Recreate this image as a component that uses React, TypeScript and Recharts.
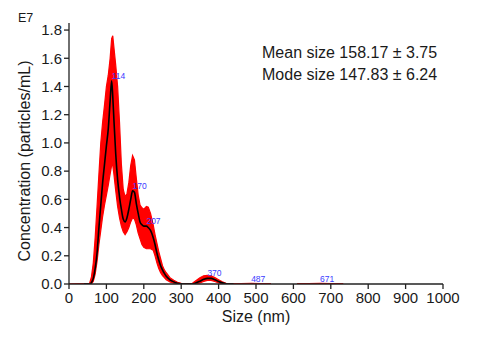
import React from 'react';
import { ComposedChart, Area, Line, XAxis, YAxis, ReferenceDot } from 'recharts';

// Size (nm) sample positions
const sizes = [0, 40, 55, 60, 65, 70, 75, 80, 85, 90, 95, 100, 105, 110, 114, 117, 120, 125, 130, 135, 140, 145, 150, 155, 160, 165, 170, 175, 180, 185, 190, 195, 200, 207, 212, 218, 225, 230, 235, 240, 245, 250, 255, 260, 270, 280, 290, 300, 310, 320, 330, 340, 350, 360, 370, 380, 390, 400, 410, 420, 430, 440, 460, 487, 510, 540, 560, 580, 610, 640, 671, 700, 733, 760, 1000];

// Mean concentration (E7 particles/mL)
const meanConc = [0, 0, 0, 0.01, 0.04, 0.11, 0.22, 0.40, 0.56, 0.72, 0.85, 0.98, 1.10, 1.30, 1.44, 1.33, 1.17, 0.92, 0.74, 0.62, 0.53, 0.46, 0.44, 0.47, 0.53, 0.60, 0.66, 0.65, 0.57, 0.50, 0.44, 0.42, 0.41, 0.41, 0.40, 0.38, 0.33, 0.28, 0.22, 0.17, 0.13, 0.10, 0.075, 0.055, 0.03, 0.015, 0.006, 0.002, 0, 0, 0, 0.008, 0.02, 0.033, 0.04, 0.04, 0.03, 0.018, 0.008, 0.002, 0, 0, 0, 0.002, 0, 0, 0, 0, 0, 0, 0.002, 0, 0, 0, 0];

// Upper edge of the error band
const upperConc = [0, 0.003, 0.005, 0.05, 0.15, 0.33, 0.55, 0.78, 1.0, 1.15, 1.27, 1.40, 1.48, 1.60, 1.74, 1.76, 1.68, 1.55, 1.40, 1.15, 0.85, 0.67, 0.62, 0.64, 0.72, 0.84, 0.91, 0.88, 0.75, 0.63, 0.56, 0.54, 0.53, 0.55, 0.545, 0.50, 0.42, 0.35, 0.29, 0.23, 0.18, 0.13, 0.10, 0.08, 0.045, 0.027, 0.012, 0.005, 0.003, 0.003, 0.005, 0.025, 0.045, 0.058, 0.062, 0.058, 0.045, 0.03, 0.015, 0.005, 0.003, 0.003, 0.003, 0.004, 0.003, 0.003, null, null, 0.003, 0.003, 0.004, 0.003, 0.003, null, null];

// Lower edge of the error band
const lowerConc = [0, 0, 0, 0, 0.02, 0.07, 0.16, 0.28, 0.38, 0.48, 0.56, 0.63, 0.70, 0.78, 0.84, 0.84, 0.78, 0.66, 0.55, 0.47, 0.41, 0.37, 0.35, 0.37, 0.40, 0.44, 0.47, 0.46, 0.42, 0.36, 0.32, 0.28, 0.26, 0.25, 0.25, 0.25, 0.24, 0.20, 0.15, 0.11, 0.08, 0.06, 0.045, 0.03, 0.015, 0.006, 0.002, 0, 0, 0, 0, 0.002, 0.008, 0.018, 0.025, 0.025, 0.018, 0.008, 0.002, 0, 0, 0, 0, 0, 0, 0, null, null, 0, 0, 0, 0, 0, null, null];

// Peak labels
const peakSizes = [114, 170, 207, 370, 487, 671];
const peakValues = [1.44, 0.66, 0.41, 0.04, 0.002, 0.002];

const xTicks = [0, 100, 200, 300, 400, 500, 600, 700, 800, 900, 1000];
const yTicks = [0, 0.2, 0.4, 0.6, 0.8, 1.0, 1.2, 1.4, 1.6, 1.8];

const data = sizes.map((s, i) => ({
  size: s,
  mean: s >= 40 && s <= 440 ? meanConc[i] : null,
  band: upperConc[i] === null || lowerConc[i] === null ? null : [lowerConc[i], upperConc[i]],
}));

const FONT = '"Liberation Sans", Arial, sans-serif';
const TEXT = '#1a1a1a';
const AXIS = '#222';

const PeakLabel = (props: any) => {
  const vb = props.viewBox || {};
  return (
    <text x={vb.x} y={(vb.y ?? 0) - 2} fontSize={8.5} fill="#3b3bff" fontFamily={FONT}>
      {props.value}
    </text>
  );
};

export default function App() {
  return (
    <div style={{ position: 'absolute', left: 0, top: 0, width: 481, height: 343, background: '#fff' }}>
      <ComposedChart
        width={481}
        height={343}
        data={data}
        margin={{ top: 23, right: 38, bottom: 29, left: 0 }}
      >
        <XAxis
          dataKey="size"
          type="number"
          domain={[0, 1000]}
          ticks={xTicks}
          interval={0}
          allowDataOverflow
          height={30}
          stroke={AXIS}
          strokeWidth={1.3}
          tickSize={5}
          tickMargin={3}
          tick={{ fontSize: 15, fill: TEXT, fontFamily: FONT }}
        />
        <YAxis
          type="number"
          domain={[0, 1.85]}
          ticks={yTicks}
          interval={0}
          allowDataOverflow
          width={69}
          stroke={AXIS}
          strokeWidth={1.3}
          tickSize={5}
          tickMargin={2}
          tickFormatter={(v: number) => v.toFixed(1)}
          tick={{ fontSize: 15, fill: TEXT, fontFamily: FONT }}
        />
        <Area
          dataKey="band"
          type="linear"
          stroke="#ff0000"
          strokeWidth={1.2}
          fill="#ff0000"
          fillOpacity={1}
          isAnimationActive={false}
          dot={false}
          activeDot={false}
        />
        <Line
          dataKey="mean"
          type="monotone"
          stroke="#000"
          strokeWidth={1.6}
          dot={false}
          activeDot={false}
          isAnimationActive={false}
        />
        {peakSizes.map((s, i) => (
          <ReferenceDot
            key={s}
            x={s}
            y={peakValues[i]}
            r={0}
            fill="none"
            stroke="none"
            label={{ value: String(s), content: PeakLabel }}
          />
        ))}
      </ComposedChart>
      <svg
        width={481}
        height={343}
        style={{ position: 'absolute', left: 0, top: 0, pointerEvents: 'none' }}
        fontFamily={FONT}
      >
        <text x={18} y={22} fontSize={12.5} fill={TEXT}>E7</text>
        <text transform="translate(30,161) rotate(-90)" textAnchor="middle" fontSize={16} fill={TEXT}>
          Concentration (particles/mL)
        </text>
        <text x={256} y={322} textAnchor="middle" fontSize={16} fill={TEXT}>Size (nm)</text>
        <text x={262} y={58} fontSize={16} fill={TEXT}>Mean size 158.17 ± 3.75</text>
        <text x={262} y={80} fontSize={16} fill={TEXT}>Mode size 147.83 ± 6.24</text>
      </svg>
    </div>
  );
}
